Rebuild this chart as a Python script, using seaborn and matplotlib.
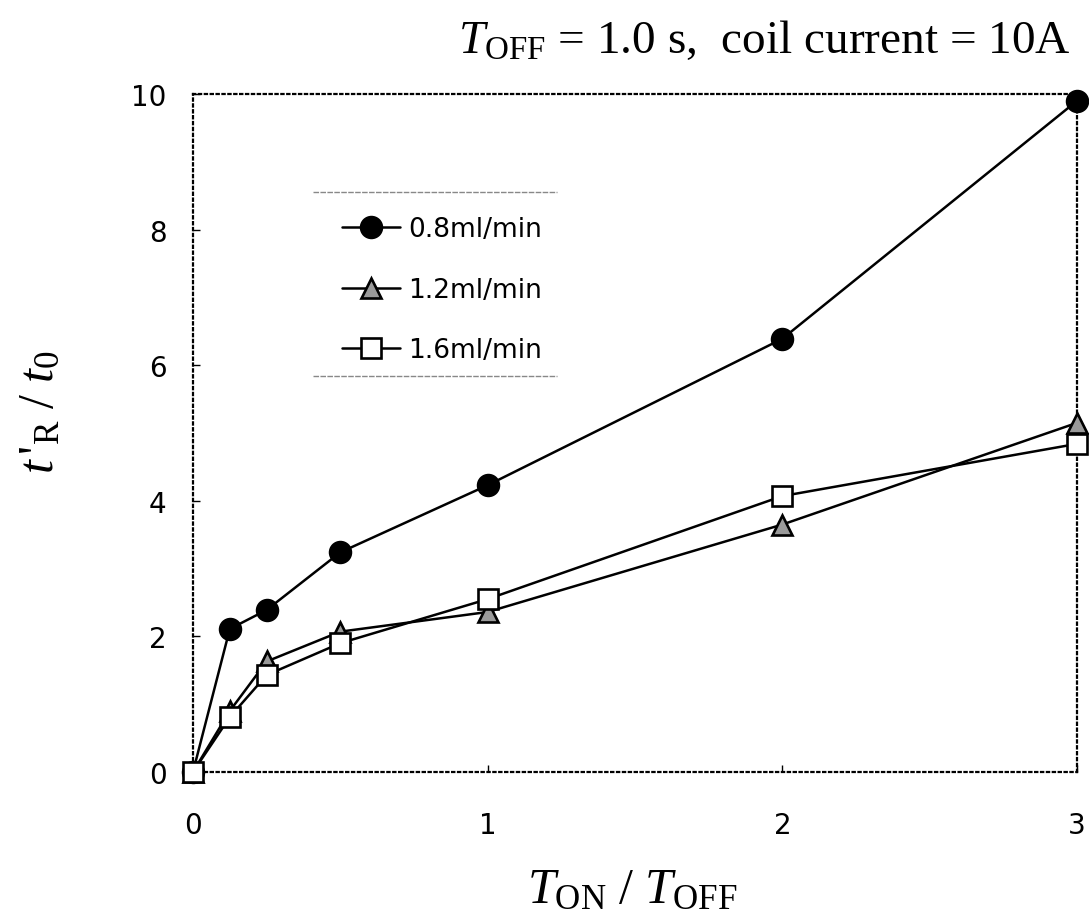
import numpy as np
import pandas as pd
import matplotlib
matplotlib.use("Agg")
import matplotlib.pyplot as plt
import seaborn as sns

ratio = [0, 0.125, 0.25, 0.5, 1, 2, 3]
flow_08 = [0, 2.11, 2.39, 3.24, 4.23, 6.39, 9.90]
flow_12 = [0, 0.90, 1.63, 2.07, 2.36, 3.65, 5.15]
flow_16 = [0, 0.81, 1.43, 1.90, 2.55, 4.07, 4.84]
labels = ["0.8ml/min", "1.2ml/min", "1.6ml/min"]

sns.set_theme(style="white")
plt.rcParams['font.family'] = ['DejaVu Sans']
plt.rcParams['text.color'] = 'black'
plt.rcParams['axes.labelcolor'] = 'black'
plt.rcParams['mathtext.fontset'] = 'custom'
plt.rcParams['mathtext.rm'] = 'Liberation Serif'
plt.rcParams['mathtext.it'] = 'Liberation Serif:italic'
plt.rcParams['mathtext.bf'] = 'Liberation Serif:bold'

fig = plt.figure(figsize=(10.89, 9.2), dpi=100)
ax = fig.add_axes([0.1772, 0.1598, 0.8118, 0.7369])

styles = [
    dict(marker='o', markerfacecolor='black', markersize=15),
    dict(marker='^', markerfacecolor='#9a9a9a', markersize=15),
    dict(marker='s', markerfacecolor='white', markersize=14),
]
for ys, lab, st in zip([flow_08, flow_12, flow_16], labels, styles):
    df = pd.DataFrame({"x": ratio, "y": ys})
    sns.lineplot(data=df, x="x", y="y", ax=ax, color='black', linewidth=1.8,
                 markeredgecolor='black', markeredgewidth=1.9, label=lab,
                 clip_on=False, zorder=3, **st)

ax.set_xlim(0, 3)
ax.set_ylim(0, 10)
ax.set_xticks([0, 1, 2, 3])
ax.set_yticks([0, 2, 4, 6, 8, 10])
ax.tick_params(direction='in', length=5, width=1, labelsize=20,
               bottom=True, left=True, colors='black')
ax.tick_params(axis='x', pad=28)
ax.tick_params(axis='y', pad=19)
for s in ax.spines.values():
    s.set_linestyle(':')
    s.set_linewidth(1.6)
    s.set_color('black')

ax.set_xlabel(r"$T_{\rm ON}\ /\ T_{\rm OFF}$", fontsize=36, color='black')
ax.set_ylabel(r"$t\,'_{\rm R}\ /\ t_0$", fontsize=36, color='black')
ax.xaxis.set_label_coords(0.497, -0.136)
ax.yaxis.set_label_coords(-0.147, 0.532)

fig.text(0.983, 0.955, r"$T_{\rm OFF}$ = 1.0 s,  coil current = 10A",
         ha='right', va='center', fontsize=34, family='Liberation Serif',
         color='black')

leg = ax.legend(loc='upper left', bbox_to_anchor=(0.13, 0.87), fontsize=19,
                frameon=False, handlelength=2.2, labelspacing=1.3,
                handletextpad=0.3, borderpad=0.8, labelcolor='black')
ax.plot([0.136, 0.412], [0.855, 0.855], transform=ax.transAxes, color='#888888',
        lw=1, ls=(0, (4, 1)), clip_on=False)
ax.plot([0.136, 0.412], [0.584, 0.584], transform=ax.transAxes, color='#888888',
        lw=1, ls=(0, (4, 1)), clip_on=False)

fig.savefig("out.png", dpi=100)
